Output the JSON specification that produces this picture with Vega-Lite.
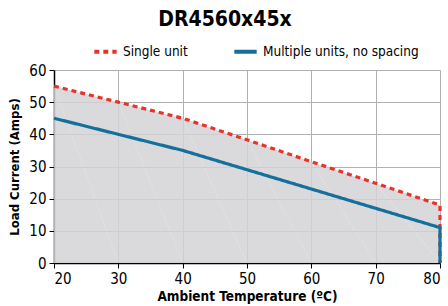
{
  "$schema": "https://vega.github.io/schema/vega-lite/v6.json",
  "autosize": {"type": "none"},
  "width": 386,
  "height": 193,
  "padding": {"left": 54, "top": 70, "right": 8, "bottom": 43},
  "background": "white",
  "config": {
    "font": "'Liberation Sans Narrow', 'DejaVu Sans Condensed', 'Liberation Sans', sans-serif",
    "view": {"stroke": null}
  },
  "title": {
    "text": "DR4560x45x",
    "fontSize": 21,
    "fontWeight": "bold",
    "color": "black",
    "anchor": "middle",
    "offset": 8,
    "dx": -22
  },
  "data": {
    "values": [
      {"series": "Single unit", "temp": 20, "amps": 55, "ord": 1},
      {"series": "Single unit", "temp": 30, "amps": 50, "ord": 2},
      {"series": "Single unit", "temp": 40, "amps": 45, "ord": 3},
      {"series": "Single unit", "temp": 50, "amps": 38.3, "ord": 4},
      {"series": "Single unit", "temp": 60, "amps": 31.5, "ord": 5},
      {"series": "Single unit", "temp": 70, "amps": 24.8, "ord": 6},
      {"series": "Single unit", "temp": 80, "amps": 18, "ord": 7},
      {"series": "Single unit", "temp": 80, "amps": 0, "ord": 8},
      {"series": "Multiple units, no spacing", "temp": 20, "amps": 45, "ord": 1},
      {"series": "Multiple units, no spacing", "temp": 30, "amps": 40, "ord": 2},
      {"series": "Multiple units, no spacing", "temp": 40, "amps": 35, "ord": 3},
      {"series": "Multiple units, no spacing", "temp": 50, "amps": 29, "ord": 4},
      {"series": "Multiple units, no spacing", "temp": 60, "amps": 23, "ord": 5},
      {"series": "Multiple units, no spacing", "temp": 70, "amps": 17, "ord": 6},
      {"series": "Multiple units, no spacing", "temp": 80, "amps": 11, "ord": 7},
      {"series": "Multiple units, no spacing", "temp": 80, "amps": 0, "ord": 8}
    ]
  },
  "encoding": {
    "x": {
      "field": "temp", "type": "quantitative",
      "scale": {"domain": [20, 80], "nice": false},
      "axis": {
        "title": "Ambient Temperature (\u00baC)",
        "titleFontSize": 13.5, "titleFontWeight": "bold", "titleColor": "black", "titlePadding": 3,
        "values": [20, 30, 40, 50, 60, 70, 80],
        "labelFontSize": 15, "labelColor": "black", "labelPadding": 3,
        "domainColor": "black", "domainWidth": 1.5,
        "tickColor": "black", "tickSize": 5,
        "grid": true, "gridColor": "#b0b0b0", "gridWidth": 1
      }
    },
    "y": {
      "field": "amps", "type": "quantitative",
      "scale": {"domain": [0, 60], "nice": false},
      "axis": {
        "title": "Load Current (Amps)",
        "titleFontSize": 13, "titleFontWeight": "bold", "titleColor": "black", "titlePadding": 7,
        "values": [0, 10, 20, 30, 40, 50, 60],
        "labelFontSize": 15, "labelColor": "black", "labelPadding": 3,
        "domainColor": "black", "domainWidth": 1.5,
        "tickColor": "black", "tickSize": 5,
        "grid": true, "gridColor": "#b0b0b0", "gridWidth": 1
      }
    },
    "order": {"field": "ord"}
  },
  "layer": [
    {
      "transform": [{"filter": "datum.series === 'Single unit'"}],
      "mark": {"type": "area", "color": "#d3d4d6", "opacity": 0.85}
    },
    {
      "mark": {"type": "line", "strokeWidth": 3.2},
      "encoding": {
        "color": {
          "field": "series", "type": "nominal",
          "scale": {"domain": ["Single unit", "Multiple units, no spacing"], "range": ["#e8322b", "#156f9c"]},
          "legend": {
            "title": null, "orient": "none", "direction": "horizontal",
            "legendX": 38, "legendY": -32,
            "labelFontSize": 13.5, "labelColor": "black",
            "symbolType": "stroke", "symbolStrokeWidth": 4, "symbolSize": 500,
            "columnPadding": 38, "labelLimit": 300
          }
        },
        "strokeDash": {
          "field": "series", "type": "nominal",
          "scale": {"domain": ["Single unit", "Multiple units, no spacing"], "range": [[5, 4], [1, 0]]},
          "legend": null
        }
      }
    }
  ]
}
